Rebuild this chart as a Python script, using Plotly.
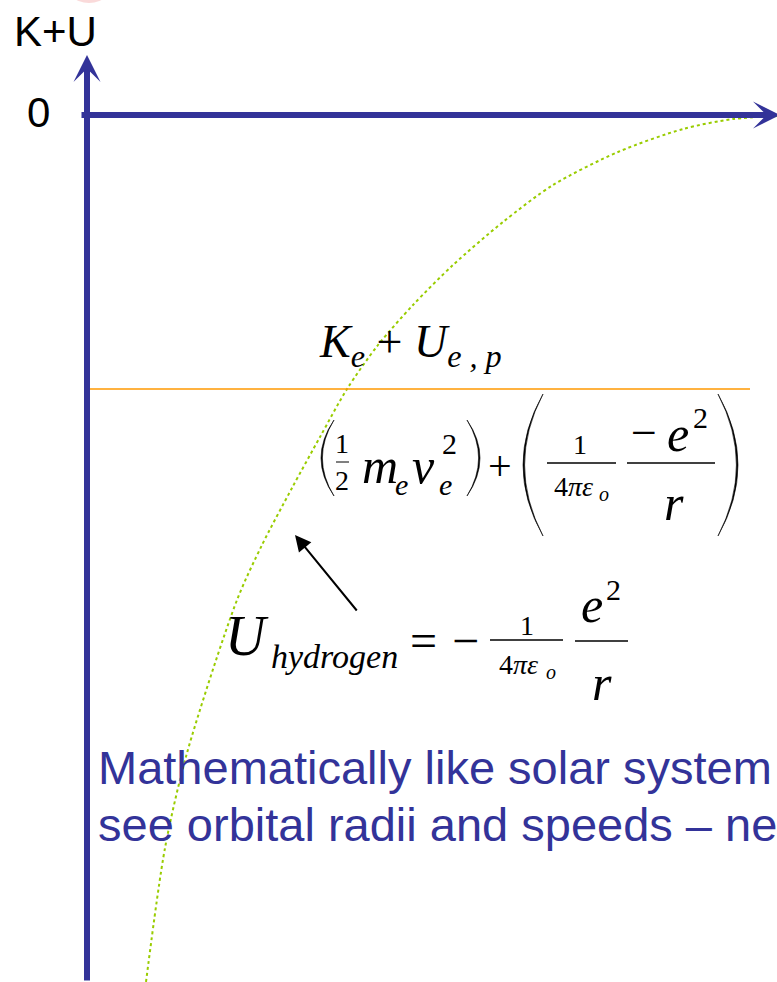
import plotly.graph_objects as go

W, H = 777, 982

# Total energy K+U of the electron versus orbital radius r (arbitrary units)
radius = [0.59, 0.78, 1.00, 1.50, 1.75, 2.05, 2.33, 2.60, 2.91, 3.26, 3.66,
          4.16, 4.66, 5.31, 5.96, 6.46, 6.90]
energy = [-8.67, -7.33, -6.38, -4.85, -4.30, -3.73, -3.22, -2.74, -2.30, -1.90, -1.50,
          -1.07, -0.70, -0.37, -0.14, -0.04, -0.01]

# A bound-state energy level drawn across the well
level_energy = -2.74
level_r = [0.03, 6.63]

x_range = [-0.87, 6.90]
y_range = [-8.67, 1.15]

AXIS_BLUE = "#333399"
SERIF = "Liberation Serif"
SANS = "Liberation Sans"


def px(x):
    return x / W


def py(y):
    return 1 - y / H


fig = go.Figure()

fig.add_trace(go.Scatter(
    x=radius, y=energy, mode="lines",
    line=dict(color="#99CC00", width=2, dash="dot", shape="spline", smoothing=0.8),
    hoverinfo="skip", showlegend=False,
))

fig.add_trace(go.Scatter(
    x=level_r, y=[level_energy, level_energy], mode="lines",
    line=dict(color="#FF9900", width=1.5),
    hoverinfo="skip", showlegend=False,
))

annotations = []

# Axes drawn as thick arrows meeting at the origin (r = 0, K+U = 0)
annotations.append(dict(
    x=0, y=0.60, ax=0, ay=y_range[0], xref="x", yref="y", axref="x", ayref="y",
    text="", showarrow=True, arrowhead=3, arrowsize=0.75, arrowwidth=6,
    arrowcolor=AXIS_BLUE,
))
annotations.append(dict(
    x=6.93, y=0, ax=-0.07, ay=0, xref="x", yref="y", axref="x", ayref="y",
    text="", showarrow=True, arrowhead=3, arrowsize=0.75, arrowwidth=6,
    arrowcolor=AXIS_BLUE,
))


def note(text, x, y, size, family=SERIF, color="black", xanchor="center", yanchor="middle"):
    annotations.append(dict(
        text=text, x=px(x), y=py(y), xref="paper", yref="paper",
        showarrow=False, xanchor=xanchor, yanchor=yanchor,
        font=dict(family=family, size=size, color=color),
    ))


# Axis labels
note("K+U", 55, 32, 42, family=SANS)
note("0", 38, 112, 42, family=SANS)

# K_e + U_{e,p}
note("<i>K</i><sub><i>e</i></sub> + <i>U</i><sub><i>e , p</i></sub>", 410, 345, 46)

# (1/2 m_e v_e^2) + (1/(4 pi eps_o) * (-e^2)/r)
note("1", 342, 443, 28)
note("2", 342, 480, 28)
note("<i>m</i>", 380, 466, 50)
note("<i>e</i>", 401, 484, 30)
note("<i>v</i>", 424, 466, 50)
note("<i>e</i>", 445, 484, 30)
note("2", 450, 443, 30)
note("+", 500, 466, 42)
note("1", 580, 444, 28)
note("4<i>πε</i>", 573, 487, 28)
note("<i>o</i>", 604, 494, 20)
note("−", 644, 432, 46)
note("<i>e</i>", 678, 434, 50)
note("2", 700, 417, 30)
note("<i>r</i>", 674, 503, 50)

# U_hydrogen = -(1/(4 pi eps_o)) e^2/r
note("<i>U</i>", 247, 636, 56)
note("<i>hydrogen</i>", 334, 656, 34)
note("=", 423, 640, 48)
note("−", 466, 640, 48)
note("1", 527, 625, 28)
note("4<i>πε</i>", 518, 664, 28)
note("<i>o</i>", 551, 672, 20)
note("<i>e</i>", 592, 605, 50)
note("2", 613, 589, 30)
note("<i>r</i>", 602, 683, 50)

# Pointer from the formula to the curve
annotations.append(dict(
    x=px(295), y=py(535), xref="paper", yref="paper",
    ax=63, ay=77, axref="pixel", ayref="pixel",
    text="", showarrow=True, arrowhead=2, arrowsize=1.6, arrowwidth=2,
    arrowcolor="black",
))

# Caption (runs past the right edge of the frame)
note("Mathematically like solar system – can't", 96, 767, 47, family=SANS,
     color=AXIS_BLUE, xanchor="left")
note("see orbital radii and speeds – need", 96, 824, 47, family=SANS,
     color=AXIS_BLUE, xanchor="left")

shapes = []


def hline(x0, x1, y, width=1.5, color="black"):
    shapes.append(dict(type="line", xref="paper", yref="paper",
                       x0=px(x0), x1=px(x1), y0=py(y), y1=py(y),
                       line=dict(color=color, width=width)))


# Brackets: tapered crescents whose control points are pulled outward
def bracket(x_edge, x_tip, y0, y1, left, thick):
    ym = (y0 + y1) / 2
    ctrl = 2 * x_edge - x_tip
    ctrl_in = ctrl + (thick if left else -thick) * 2
    path = (f"M {px(x_tip)},{py(y0)} Q {px(ctrl)},{py(ym)} {px(x_tip)},{py(y1)} "
            f"Q {px(ctrl_in)},{py(ym)} {px(x_tip)},{py(y0)} Z")
    shapes.append(dict(type="path", xref="paper", yref="paper", path=path,
                       fillcolor="black", line=dict(color="black", width=0.6)))


# Fraction bars
hline(336, 349, 462, width=1.0)
hline(547, 616, 463)
hline(627, 715, 463)
hline(490, 563, 640)
hline(575, 628, 641)

bracket(321, 334, 420, 496, True, 1.4)
bracket(480, 467, 420, 496, False, 1.4)
bracket(523, 543, 394, 536, True, 1.6)
bracket(738, 718, 394, 536, False, 1.6)

# Faint pink mark at the top edge
shapes.append(dict(type="circle", xref="paper", yref="paper",
                   x0=px(62), x1=px(116), y0=py(3), y1=py(-50),
                   fillcolor="rgba(240,150,150,0.35)", line=dict(width=0)))

fig.update_layout(
    width=W, height=H,
    margin=dict(l=0, r=0, t=0, b=0),
    paper_bgcolor="white", plot_bgcolor="white",
    xaxis=dict(range=x_range, visible=False, fixedrange=True),
    yaxis=dict(range=y_range, visible=False, fixedrange=True),
    annotations=annotations,
    shapes=shapes,
    showlegend=False,
)

fig.write_html("out.html")
